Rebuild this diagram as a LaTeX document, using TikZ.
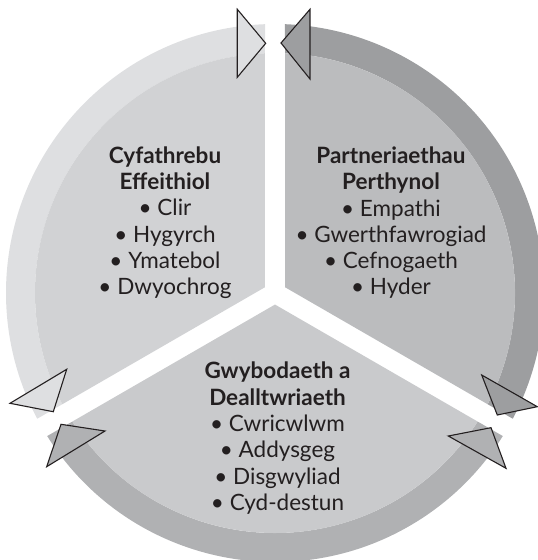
\documentclass[tikz,border=0pt]{standalone}
\usepackage{fontspec}
\setmainfont{Lato}
\usetikzlibrary{positioning}
\definecolor{inkgrey}{HTML}{231F20}
\definecolor{leftfill}{HTML}{D1D2D4}
\definecolor{leftring}{HTML}{DEDFE1}
\definecolor{rightfill}{HTML}{BBBCBE}
\definecolor{rightring}{HTML}{9D9EA0}
\definecolor{lowfill}{HTML}{C9CACC}
\definecolor{lowring}{HTML}{B0B1B3}
\tikzset{
  textblock/.style={align=center, text=inkgrey, inner sep=0pt,
    font=\fontsize{22.5}{26.3}\selectfont},
  arrowtip/.style={draw=inkgrey, line width=1.1pt, line join=miter}
}
% slice of the pie, #2 = angle where its arc starts
\newcommand{\pieslice}[2]{\fill[#1] ({#2+60}:11.55) -- ({#2+2.39}:240)
  arc[start angle={#2+2.39}, end angle={#2+117.61}, radius=240] -- cycle;}
% outer band behind a slice
\newcommand{\ringband}[2]{\fill[#1] ({#2+2.39}:240) -- ({#2+2.13}:269)
  arc[start angle={#2+2.13}, end angle={#2+117.87}, radius=269]
  -- ({#2+117.61}:240) arc[start angle={#2+117.61}, end angle={#2+2.39}, radius=240] -- cycle;}

\begin{document}
\begin{tikzpicture}[x=1pt, y=1pt]
  \useasboundingbox (-275,-267) rectangle (263,293);

  \ringband{leftring}{90}
  \ringband{rightring}{-30}
  \ringband{lowring}{210}
  \pieslice{leftfill}{90}
  \pieslice{rightfill}{-30}
  \pieslice{lowfill}{210}

  % arrow heads at the ends of the bands
  \draw[arrowtip, fill=leftring] (-37.7,283.7) -- (-9.3,249.7) -- (-37.7,215.7) -- cycle;
  \draw[arrowtip, fill=rightring] (35,283.7) -- (6,250) -- (35,214) -- cycle;
  \draw[arrowtip, fill=leftring] (-208.3,-76.3) -- (-265,-110.3) -- (-221.7,-118.7) -- cycle;
  \draw[arrowtip, fill=lowring] (-214,-131.3) -- (-170,-138) -- (-228.3,-173.7) -- cycle;
  \draw[arrowtip, fill=rightring] (206.7,-82) -- (262.3,-113.7) -- (222.3,-122) -- cycle;
  \draw[arrowtip, fill=lowring] (173.3,-143) -- (216,-134.7) -- (231,-175.3) -- cycle;

  \node[textblock] (commtext) at (-110,70.2)
    {\textbf{Cyfathrebu}\\\textbf{Effeithiol}\\• Clir\\• Hygyrch\\• Ymatebol\\• Dwyochrog};
  \node[textblock] (parttext) at (116,70.2)
    {\textbf{Partneriaethau}\\\textbf{Perthynol}\\• Empathi\\• Gwerthfawrogiad\\• Cefnogaeth\\• Hyder};
  \node[textblock] (knowtext) at (2.5,-145.3)
    {\textbf{Gwybodaeth a}\\\textbf{Dealltwriaeth}\\• Cwricwlwm\\• Addysgeg\\• Disgwyliad\\• Cyd-destun};
\end{tikzpicture}
\end{document}
